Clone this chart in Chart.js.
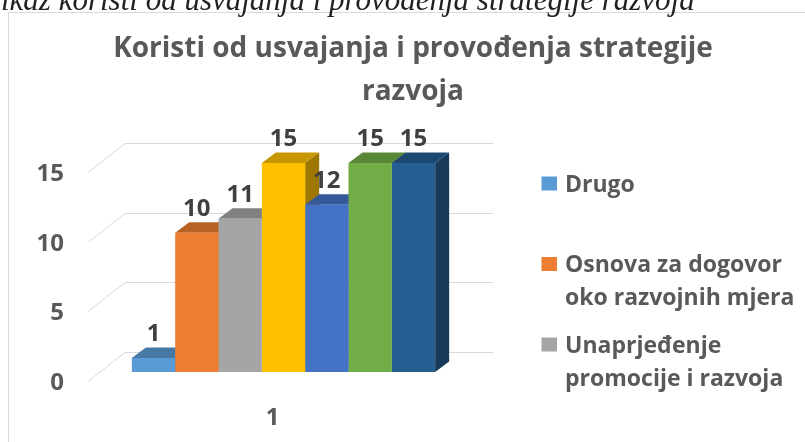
<!DOCTYPE html>
<html><head><meta charset="utf-8">
<script src="https://cdn.jsdelivr.net/npm/chart.js@4.4.1/dist/chart.umd.min.js"></script>
<style>
html,body{margin:0;padding:0;background:#fff;width:805px;height:442px;overflow:hidden;}
#box{position:absolute;left:8px;top:12px;width:1000px;height:1000px;border-top:1px solid #d9d9d9;border-left:1px solid #d9d9d9;background:#fff;}
canvas{position:absolute;left:0;top:0;}
</style></head><body>
<div id="box"></div>
<canvas id="c" width="805" height="442"></canvas>
<script>
const caption = 'ikaz koristi od usvajanja i provođenja strategije razvoja';
const titleLines = ['Koristi od usvajanja i provođenja strategije', 'razvoja'];
const categories = ['1'];
const seriesNames = ['Drugo', 'Osnova za dogovor oko razvojnih mjera', 'Unaprjeđenje promocije i razvoja'];
const seriesValues = [1, 10, 11, 15, 12, 15, 15];
const seriesColors = ['#5B9BD5', '#ED7D31', '#A5A5A5', '#FFC000', '#4472C4', '#70AD47', '#255E91'];
const yTicks = [0, 5, 10, 15];

const FONT = '"Open Sans"';
const TXT = '#595959';
const DX = 14, DY = 10.5;

function shade(hex, f) {
  const n = parseInt(hex.slice(1), 16);
  const r = Math.round(((n >> 16) & 255) * f), g = Math.round(((n >> 8) & 255) * f), b = Math.round((n & 255) * f);
  return `rgb(${r},${g},${b})`;
}
function wrap(ctx, text, maxW) {
  const words = text.split(' '); const lines = []; let cur = '';
  words.forEach(w => {
    const t = cur ? cur + ' ' + w : w;
    if (ctx.measureText(t).width > maxW && cur) { lines.push(cur); cur = w; } else cur = t;
  });
  if (cur) lines.push(cur);
  return lines;
}

const view3d = {
  id: 'view3d',
  beforeDraw(chart) {
    const ctx = chart.ctx;
    ctx.save();
    ctx.textBaseline = 'alphabetic';
    ctx.fillStyle = '#222';
    ctx.font = 'italic 31px "Liberation Serif"';
    ctx.textAlign = 'left';
    ctx.fillText(caption, 1, 10);
    ctx.fillStyle = TXT;
    ctx.font = `bold 28px ${FONT}`;
    ctx.textAlign = 'center';
    titleLines.forEach((t, i) => ctx.fillText(t, 413, 57 + i * 43));
    ctx.font = `bold 23px ${FONT}`;
    ctx.textAlign = 'left';
    seriesNames.forEach((name, i) => {
      const base = 191.5 + i * 80.5;
      ctx.fillStyle = seriesColors[i];
      ctx.fillRect(541.5, base - 15, 15.5, 14);
      ctx.fillStyle = TXT;
      wrap(ctx, name, 245).forEach((ln, j) => ctx.fillText(ln, 565, base + j * 33));
    });
    ctx.restore();
  },
  beforeDatasetsDraw(chart) {
    const ctx = chart.ctx, ys = chart.scales.y, a = chart.chartArea;
    ctx.save();
    ctx.strokeStyle = '#d9d9d9';
    ctx.lineWidth = 1;
    yTicks.forEach(v => {
      const py = Math.round(ys.getPixelForValue(v)) + 0.5;
      ctx.beginPath();
      ctx.moveTo(a.left, py + 9);
      ctx.lineTo(a.left + 37, py - 20);
      ctx.lineTo(a.right + 14, py - 20);
      ctx.stroke();
    });
    seriesValues.forEach((v, i) => {
      const el = chart.getDatasetMeta(i).data[0];
      const p = el.getProps(['x', 'y', 'base', 'width'], true);
      const l = p.x - p.width / 2, r = p.x + p.width / 2;
      ctx.fillStyle = shade(seriesColors[i], 0.62);
      ctx.beginPath();
      ctx.moveTo(r, p.y); ctx.lineTo(r + DX, p.y - DY); ctx.lineTo(r + DX, p.base - DY); ctx.lineTo(r, p.base);
      ctx.closePath(); ctx.fill();
      ctx.fillStyle = shade(seriesColors[i], 0.78);
      ctx.beginPath();
      ctx.moveTo(l, p.y); ctx.lineTo(l + DX, p.y - DY); ctx.lineTo(r + DX, p.y - DY); ctx.lineTo(r, p.y);
      ctx.closePath(); ctx.fill();
    });
    ctx.restore();
  },
  afterDatasetsDraw(chart) {
    const ctx = chart.ctx;
    ctx.save();
    ctx.font = `bold 24px ${FONT}`;
    ctx.fillStyle = '#404040';
    ctx.textAlign = 'center';
    ctx.textBaseline = 'alphabetic';
    seriesValues.forEach((v, i) => {
      const el = chart.getDatasetMeta(i).data[0];
      ctx.fillText(String(v), el.x, el.y - 17);
    });
    ctx.restore();
  }
};

new Chart(document.getElementById('c'), {
  type: 'bar',
  data: {
    labels: categories,
    datasets: seriesValues.map((v, i) => ({
      label: seriesNames[i] || '',
      data: [v],
      backgroundColor: seriesColors[i],
      borderWidth: 0,
      categoryPercentage: 0.7757,
      barPercentage: 1
    }))
  },
  options: {
    responsive: false,
    animation: false,
    devicePixelRatio: 1,
    layout: { padding: { left: 0, right: 326, top: 163, bottom: 0 } },
    plugins: { legend: { display: false }, title: { display: false }, tooltip: { enabled: false } },
    scales: {
      x: {
        afterFit: s => { s.height = 70; },
        grid: { display: false, drawTicks: false },
        border: { display: false },
        ticks: { labelOffset: -11, padding: 32, color: TXT, font: { family: 'Open Sans', size: 24, weight: 'bold' } }
      },
      y: {
        min: 0, max: 15,
        afterFit: s => { s.width = 88; },
        grid: { display: false, drawTicks: false },
        border: { display: false },
        ticks: { stepSize: 5, labelOffset: 11, padding: 24, color: TXT, font: { family: 'Open Sans', size: 24, weight: 'bold' } }
      }
    }
  },
  plugins: [view3d]
});
</script>
</body></html>
